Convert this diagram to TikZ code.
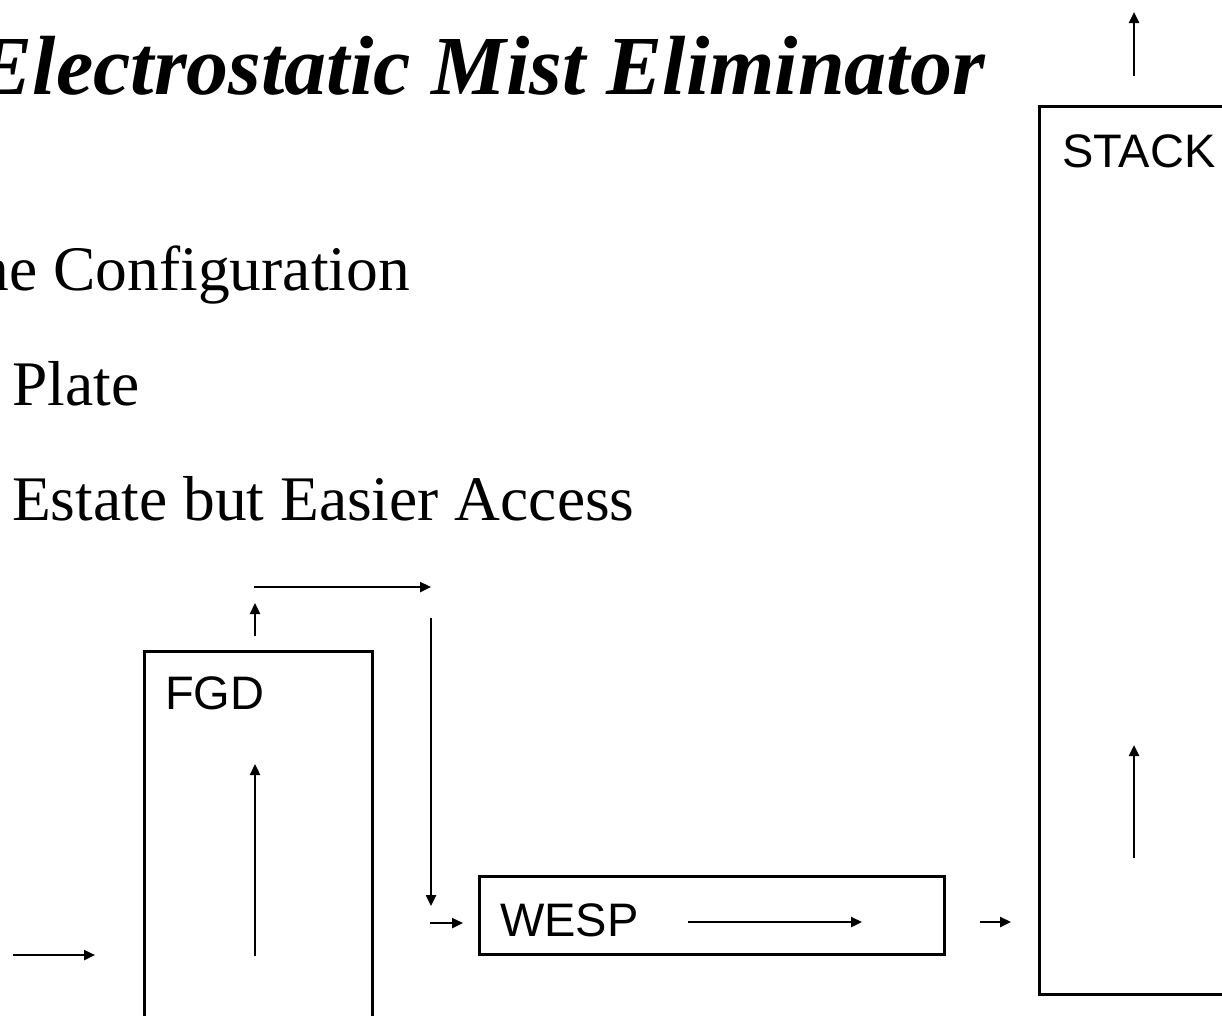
\documentclass[tikz,border=0pt]{standalone}
\usepackage{fontspec}
\setmainfont{Liberation Serif}
\newfontfamily\arialf{Liberation Sans}
\usetikzlibrary{arrows.meta}
\begin{document}
\begin{tikzpicture}[x=1pt,y=-1pt,
  box/.style={draw, line width=2.5pt, rectangle, inner sep=0pt, anchor=north west},
  flow/.style={line width=2.4pt, -{Triangle[length=11pt,width=10pt]}},
  lbl/.style={font=\arialf\fontsize{47}{50}\selectfont, inner sep=0pt, anchor=base west},
  body/.style={font=\fontsize{63.5}{66}\selectfont, inner sep=0pt}]
\useasboundingbox (0,0) rectangle (1222,1015);
% title and text
\node[anchor=base east, font=\bfseries\itshape\fontsize{84}{90}\selectfont, inner sep=0pt] (title) at (985,94) {Electrostatic Mist Eliminator};
\node[body, anchor=base east] (t1) at (410,290) {ne Configuration};
\node[body, anchor=base west] (t2) at (12,405) {Plate};
\node[body, anchor=base west] (t3) at (12,520) {Estate but Easier Access};
% boxes
\node[box, minimum width=228pt, minimum height=460pt] (fgd) at (143,650) {};
\node[box, minimum width=465pt, minimum height=78pt] (wesp) at (478,875) {};
\node[box, minimum width=250pt, minimum height=888pt] (stack) at (1038,105) {};
\node[lbl] (fgdl) at (165,709) {FGD};
\node[lbl] (wespl) at (500,936) {WESP};
\node[lbl] (stackl) at (1062,167) {STACK};
% coordinates
\coordinate (in1) at (13,955); \coordinate (in2) at (95,955);
\coordinate (f1) at (255,956); \coordinate (f2) at (255,764);
\coordinate (f3) at (255,636); \coordinate (f4) at (255,603);
\coordinate (h1) at (254,587); \coordinate (h2) at (431,587);
\coordinate (d1) at (431,618); \coordinate (d2) at (431,906);
\coordinate (w1) at (430,923); \coordinate (w2) at (463,923);
\coordinate (wi1) at (688,922); \coordinate (wi2) at (862,922);
\coordinate (o1) at (980,922); \coordinate (o2) at (1011,922);
\coordinate (s1) at (1134,858); \coordinate (s2) at (1134,745);
\coordinate (s3) at (1134,76); \coordinate (s4) at (1134,12);
% arrows
\draw[flow] (in1) -- (in2);
\draw[flow] (f1) -- (f2);
\draw[flow] (f3) -- (f4);
\draw[flow] (h1) -- (h2);
\draw[flow] (d1) -- (d2);
\draw[flow] (w1) -- (w2);
\draw[flow] (wi1) -- (wi2);
\draw[flow] (o1) -- (o2);
\draw[flow] (s1) -- (s2);
\draw[flow] (s3) -- (s4);
\end{tikzpicture}
\end{document}
